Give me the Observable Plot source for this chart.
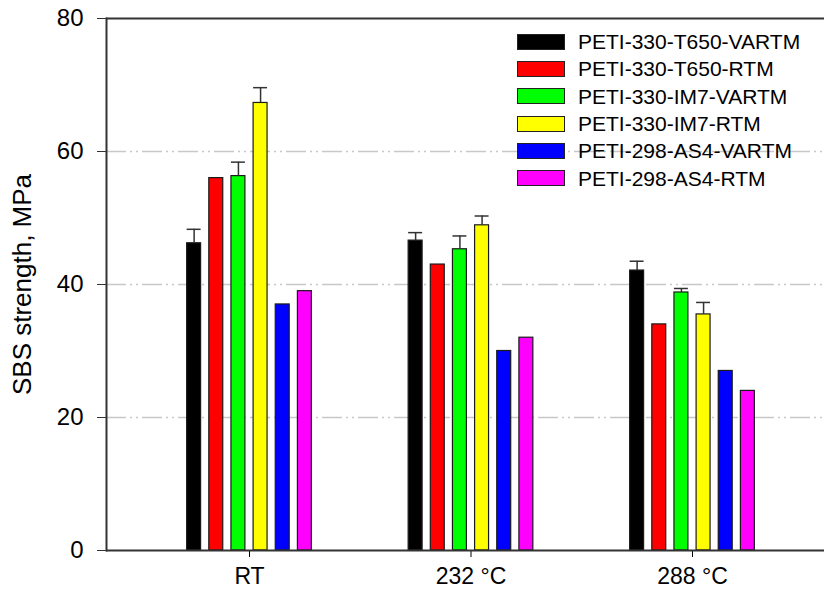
<!DOCTYPE html>
<html>
<head>
<meta charset="utf-8">
<script src="https://cdn.jsdelivr.net/npm/d3@7"></script>
<script src="https://cdn.jsdelivr.net/npm/@observablehq/plot@0.6"></script>
<style>
  html, body { margin: 0; padding: 0; background: #fff; overflow: hidden; }
  #wrap { position: relative; width: 824px; height: 596px; font-family: "Liberation Sans", Arial, sans-serif; }
  #wrap svg { position: absolute; left: 0; top: 0; }
  #legend { position: absolute; left: 517px; top: 28px; z-index: 2; }
  .row { display: flex; align-items: center; height: 27.3px; }
  .sw { width: 46px; height: 14px; border: 1px solid #222; margin-right: 13px; }
  .lab { font-size: 21px; color: #000; line-height: 1; }
</style>
</head>
<body>
<div id="wrap"><div id="legend"></div></div>
<script>
// ---- data ----
const groups = ["RT", "232 °C", "288 °C"];
const series = [
  "PETI-330-T650-VARTM",
  "PETI-330-T650-RTM",
  "PETI-330-IM7-VARTM",
  "PETI-330-IM7-RTM",
  "PETI-298-AS4-VARTM",
  "PETI-298-AS4-RTM"
];
const colors = ["#000000", "#ff0000", "#00ff00", "#ffff00", "#0000ff", "#ff00ff"];
const valuesRT   = [46.2, 56.0, 56.3, 67.3, 37.0, 39.0];
const values232  = [46.6, 43.0, 45.3, 48.9, 30.0, 32.0];
const values288  = [42.1, 34.0, 38.8, 35.5, 27.0, 24.0];
const errorsRT   = [2.1, null, 2.1, 2.3, null, null];
const errors232  = [1.2, null, 2.0, 1.4, null, null];
const errors288  = [1.4, null, 0.6, 1.8, null, null];
const yTicks = [0, 20, 40, 60, 80];
const gridValues = [20, 40, 60];
const yLabel = "SBS strength, MPa";

const valueTable = [valuesRT, values232, values288];
const errorTable = [errorsRT, errors232, errors288];
const data = [];
groups.forEach((g, gi) => series.forEach((s, si) => {
  data.push({group: g, series: s, value: valueTable[gi][si], err: errorTable[gi][si]});
}));
const errData = data.filter(d => d.err != null);

const common = {
  width: 824,
  height: 596,
  marginTop: 18,
  marginBottom: 46,
  marginLeft: 106,
  marginRight: 0,
  y: {domain: [0, 80], axis: null}
};
const font = '"Liberation Sans", Arial, sans-serif';

// background layer: grid and y axis
const back = Plot.plot({
  ...common,
  style: {fontFamily: font, background: "white", color: "#000"},
  marks: [
    Plot.ruleY(gridValues, {stroke: "#c8c8c8", strokeWidth: 1.5, strokeDasharray: "20,4,2,4,2,4"}),
    Plot.axisY({ticks: yTicks, tickSize: 9, tickPadding: 14, fontSize: 24, stroke: "#333",
      label: yLabel, labelArrow: "none", labelAnchor: "center", labelOffset: 94})
  ]
});

// foreground layer: grouped bars and error bars
const front = Plot.plot({
  ...common,
  style: {fontFamily: font, background: "transparent", color: "#000"},
  fx: {domain: groups, range: [138.25, 802.75], paddingInner: 0, paddingOuter: 0, round: false},
  x: {domain: series, paddingInner: 0.37, paddingOuter: 2.185, round: false, axis: null},
  color: {domain: series, range: colors},
  marks: [
    Plot.barY(data, {fx: "group", x: "series", y: "value", fill: "series", stroke: "#1a1a1a", strokeWidth: 1.2}),
    Plot.ruleX(errData, {fx: "group", x: "series", y1: "value", y2: d => d.value + d.err, stroke: "#333", strokeWidth: 1.5}),
    Plot.tickY(errData, {fx: "group", x: "series", y: d => d.value + d.err, stroke: "#333", strokeWidth: 1.5}),
    Plot.axisFx({anchor: "bottom", tickSize: 7, tickPadding: 10, fontSize: 23, label: null})
  ]
});

// top layer: frame lines (top, bottom, left) on the same y scale
const lines = Plot.plot({
  ...common,
  style: {background: "transparent"},
  marks: [
    Plot.ruleY([0, 80], {stroke: "#333", strokeWidth: 2}),
    Plot.frame({anchor: "left", stroke: "#333", strokeWidth: 2})
  ]
});

const wrap = document.getElementById("wrap");
wrap.prepend(lines);
wrap.prepend(front);
wrap.prepend(back);
d3.select(back).selectAll('[aria-label="y-axis label"] text')
  .style("font-size", "26px")
  .text(yLabel);

// ---- legend (HTML overlay inside plot area) ----
const legend = d3.select("#legend");
series.forEach((s, i) => {
  const row = legend.append("div").attr("class", "row");
  row.append("div").attr("class", "sw").style("background", colors[i]);
  row.append("div").attr("class", "lab").text(s);
});
</script>
</body>
</html>
